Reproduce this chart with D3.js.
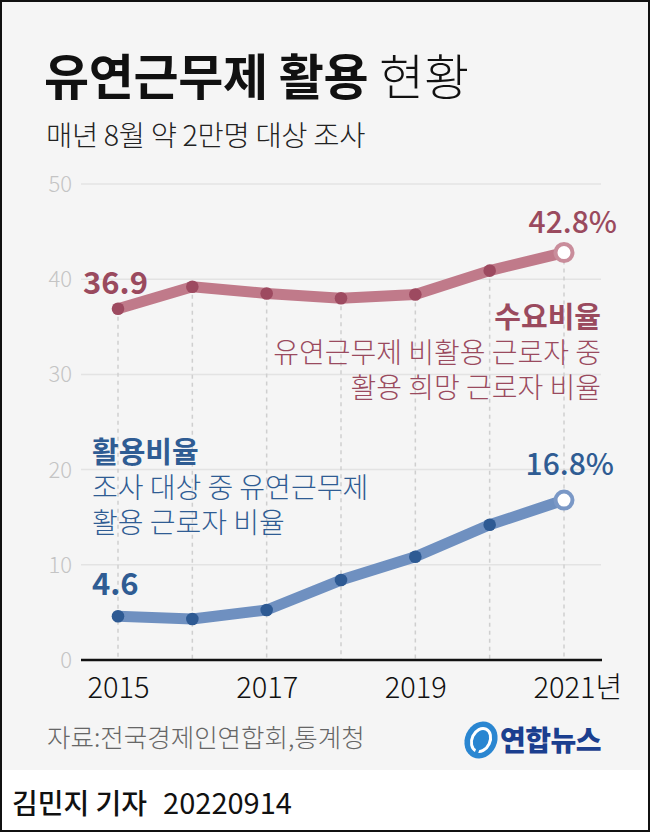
<!DOCTYPE html>
<html><head><meta charset="utf-8">
<script src="https://cdn.jsdelivr.net/npm/d3@7"></script>
<style>
html,body{margin:0;padding:0;background:#fff;}
svg{display:block;font-family:"Noto Sans CJK KR","Noto Sans",sans-serif;}
</style></head>
<body>
<svg id="c" width="650" height="832"></svg>
<script>
const years = [2015, 2016, 2017, 2018, 2019, 2020, 2021];
const demandRate = [36.9, 39.2, 38.5, 38.0, 38.4, 40.9, 42.8];
const usageRate = [4.6, 4.3, 5.25, 8.4, 10.85, 14.2, 16.8];
const yTicks = [0, 10, 20, 30, 40, 50];
const xTickYears = [2015, 2017, 2019, 2021];
const demandNote = ["수요비율", "유연근무제 비활용 근로자 중", "활용 희망 근로자 비율"];
const usageNote = ["활용비율", "조사 대상 중 유연근무제", "활용 근로자 비율"];

const svg = d3.select("#c");
const W = 650, H = 832;
const FONT = '"Noto Sans CJK KR","Noto Sans",sans-serif';

// background
svg.append("rect").attr("x",0).attr("y",0).attr("width",W).attr("height",770).attr("fill","#f5f5f5");
svg.append("rect").attr("x",0).attr("y",770).attr("width",W).attr("height",H-770).attr("fill","#ffffff");

// title
const t = svg.append("text").attr("x",44).attr("y",95).attr("font-size",49).attr("fill","#111").attr("letter-spacing",-0.3);
t.append("tspan").attr("font-weight",700).text("유연근무제 활용 ");
t.append("tspan").attr("font-weight",300).text("현황");
svg.append("text").attr("x",46).attr("y",146).attr("font-size",28.5).attr("font-weight",300)
  .attr("fill","#222").attr("letter-spacing",-0.3).text("매년 8월 약 2만명 대상 조사");

const x = d3.scaleLinear().domain([2015, 2021]).range([118, 564]);
const y = d3.scaleLinear().domain([0, 50]).range([660, 184]);

// grid
const g = svg.append("g");
g.selectAll("line.grid").data(yTicks.filter(d=>d>0)).join("line")
  .attr("x1",81).attr("x2",601).attr("y1",d=>y(d)).attr("y2",d=>y(d))
  .attr("stroke","#e3e3e3").attr("stroke-width",1.5);
g.selectAll("text.yt").data(yTicks).join("text")
  .attr("x",72).attr("y",d=>y(d)+8).attr("text-anchor","end")
  .attr("font-size",22).attr("font-weight",300).attr("fill","#c4c4c4").text(d=>d);

// dashed verticals
g.selectAll("line.vd").data(years).join("line")
  .attr("x1",d=>x(d)).attr("x2",d=>x(d))
  .attr("y1",(d,i)=>y(demandRate[i])).attr("y2",y(0))
  .attr("stroke","#cfcfcf").attr("stroke-width",1.5).attr("stroke-dasharray","4,4");

// axis line
svg.append("line").attr("x1",81).attr("x2",602).attr("y1",y(0)).attr("y2",y(0))
  .attr("stroke","#111").attr("stroke-width",2.5);

// x labels
const xl = svg.append("g").attr("transform",`translate(0,${y(0)})`);
const xAxis = d3.axisBottom(x).tickValues(xTickYears).tickSize(0).tickFormat(d3.format("d"));
xl.call(xAxis);
xl.select(".domain").remove();
xl.selectAll("text").attr("font-size",29).attr("font-weight",300).attr("fill","#111")
  .attr("dy",0).attr("y",38).attr("font-family",FONT);
xl.selectAll(".tick").filter(d=>d===2021).select("text").each(function(){
  const el = d3.select(this);
  const w = this.getComputedTextLength();
  el.attr("text-anchor","start").attr("x",-w/2);
  el.append("tspan").text("년");
});

const line = d3.line().x((d,i)=>x(years[i])).y(d=>y(d));

function series(vals, lineCol, dotCol, endCol){
  svg.append("path").attr("d",line(vals)).attr("fill","none")
    .attr("stroke",lineCol).attr("stroke-width",11).attr("stroke-linejoin","round").attr("stroke-linecap","round");
  svg.selectAll(null).data(vals.slice(0,-1)).join("circle")
    .attr("cx",(d,i)=>x(years[i])).attr("cy",d=>y(d)).attr("r",6.3).attr("fill",dotCol);
  const last = vals.length-1;
  svg.append("circle").attr("cx",x(years[last])).attr("cy",y(vals[last])).attr("r",8.5)
    .attr("fill","#fff").attr("stroke",endCol).attr("stroke-width",4);
}
series(demandRate, "#c07a8a", "#9d4a60", "#c98d9b");
series(usageRate, "#6f90c0", "#2e5a93", "#7a98c6");

const red = "#9a4a5e", blue = "#2f5c93";
// value labels
svg.append("text").attr("x",83).attr("y",294).attr("font-size",31).attr("font-weight",700)
  .attr("fill",red).text(demandRate[0]);
svg.append("text").attr("x",617).attr("y",233).attr("text-anchor","end").attr("font-size",30).attr("font-weight",500)
  .attr("fill",red).text(demandRate[6]+"%");
svg.append("text").attr("x",92).attr("y",595).attr("font-size",31).attr("font-weight",700)
  .attr("fill",blue).text(usageRate[0]);
svg.append("text").attr("x",614).attr("y",475).attr("text-anchor","end").attr("font-size",30).attr("font-weight",500)
  .attr("fill",blue).text(usageRate[6].toFixed(1)+"%");

// annotations: one text block each, lines as tspans
function note(lines, xx, yy, col, anchor){
  const tx = svg.append("text").attr("x",xx).attr("y",yy).attr("text-anchor",anchor).attr("fill",col);
  lines.forEach((s,i)=>{
    tx.append("tspan").attr("x",xx).attr("dy", i===0 ? 0 : (i===1 ? 35 : 34.5))
      .attr("font-size", i===0 ? 29 : 28).attr("font-weight", i===0 ? 700 : 300).text(s);
  });
}
note(demandNote, 601, 328, red, "end");
note(usageNote, 92, 463, blue, "start");

// source
svg.append("text").attr("x",47).attr("y",747).attr("font-size",25.5).attr("font-weight",300)
  .attr("fill","#666").text("자료:전국경제인연합회,통계청");

// logo
const lg = svg.append("g").attr("transform","translate(481,740)");
lg.append("ellipse").attr("rx",16).attr("ry",19).attr("transform","rotate(25)").attr("fill","#2a86d1");
lg.append("ellipse").attr("rx",9).attr("ry",12).attr("transform","rotate(25)").attr("fill","none")
  .attr("stroke","#fff").attr("stroke-width",3);
lg.append("path").attr("d","M3,-7 L-5,14").attr("stroke","#2a86d1").attr("stroke-width",3.5);
svg.append("text").attr("x",500).attr("y",751).attr("font-size",28).attr("font-weight",900)
  .attr("fill","#1b3f8f").attr("letter-spacing",-0.5).text("연합뉴스");

// footer
const f = svg.append("text").attr("x",12).attr("y",814).attr("font-size",28).attr("fill","#111");
f.append("tspan").attr("font-weight",500).text("김민지 기자");
f.append("tspan").attr("font-weight",400).attr("dx",16).attr("font-size",29).text("20220914");

// frame
svg.append("rect").attr("x",1).attr("y",1).attr("width",W-2).attr("height",H-2)
  .attr("fill","none").attr("stroke","#111").attr("stroke-width",2);
</script>
</body></html>
